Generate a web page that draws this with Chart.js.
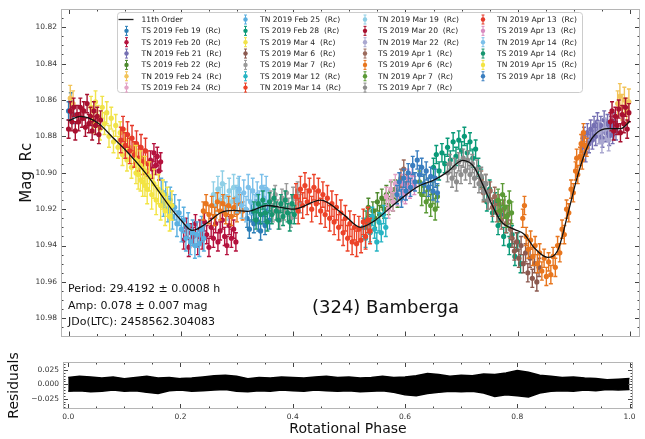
<!DOCTYPE html>
<html><head><meta charset="utf-8">
<script src="https://cdn.jsdelivr.net/npm/chart.js@4"></script>
<style>
html,body{margin:0;padding:0;background:#fff;}
#wrap{position:relative;width:645px;height:439px;overflow:hidden;background:#fff;}
#main{position:absolute;left:0;top:0;width:645px;height:345px;}
#resid{position:absolute;left:0;top:345px;width:645px;height:94px;}
</style></head><body>
<div id="wrap"><canvas id="main" width="645" height="345"></canvas><canvas id="resid" width="645" height="94"></canvas></div>
<script>
// ---------------- DATA ----------------
const fitPhase = [0.000,0.021,0.051,0.080,0.105,0.140,0.160,0.182,0.200,0.220,0.247,0.271,0.294,0.319,0.354,0.401,0.449,0.490,0.520,0.544,0.586,0.622,0.651,0.675,0.702,0.722,0.746,0.770,0.794,0.812,0.829,0.853,0.871,0.889,0.907,0.925,0.942,0.960,0.984,1.000];
const fitMag = [10.8715,10.869,10.8724,10.881,10.8887,10.9013,10.910,10.9194,10.926,10.9317,10.9275,10.922,10.9207,10.9212,10.918,10.920,10.915,10.923,10.930,10.9266,10.9158,10.9076,10.904,10.8995,10.8932,10.8968,10.9122,10.9266,10.9311,10.9339,10.9411,10.9465,10.9429,10.923,10.9013,10.8851,10.8778,10.8757,10.8757,10.8715];

const tsFeb19 = [[0.000,10.866],[0.004,10.861],[0.008,10.868],[0.318,10.925],[0.322,10.931],[0.326,10.922],[0.330,10.928],[0.334,10.920],[0.338,10.927],[0.342,10.932],[0.346,10.923],[0.350,10.929],[0.354,10.921],[0.358,10.926]];
const tsFeb20 = [[0.146,10.893],[0.149,10.898],[0.152,10.889],[0.155,10.896],[0.158,10.891],[0.161,10.899],[0.164,10.894],[0.205,10.937],[0.210,10.930],[0.214,10.941],[0.218,10.933],[0.222,10.935],[0.226,10.928],[0.230,10.940],[0.234,10.931],[0.238,10.937],[0.242,10.927],[0.246,10.934],[0.250,10.941],[0.254,10.930],[0.258,10.936],[0.262,10.928],[0.266,10.938],[0.270,10.932],[0.274,10.926],[0.278,10.935],[0.282,10.940],[0.286,10.929],[0.290,10.936],[0.294,10.931],[0.298,10.938]];
const tnFeb21 = [[0.915,10.886],[0.918,10.880],[0.921,10.889],[0.924,10.878],[0.927,10.884],[0.930,10.876],[0.933,10.882],[0.936,10.874],[0.939,10.880],[0.942,10.872],[0.945,10.879],[0.948,10.874],[0.951,10.881],[0.954,10.871],[0.957,10.878],[0.960,10.873],[0.963,10.880],[0.966,10.874],[0.969,10.879],[0.972,10.872],[0.975,10.877]];
const tsFeb22 = [[0.530,10.926],[0.534,10.919],[0.538,10.928],[0.542,10.921],[0.546,10.925],[0.550,10.916],[0.554,10.923],[0.558,10.914],[0.562,10.920],[0.566,10.912],[0.570,10.918],[0.574,10.910],[0.578,10.916],[0.582,10.909],[0.586,10.914]];
const tnFeb24 = [[0.978,10.862],[0.982,10.858],[0.986,10.864],[0.990,10.860],[0.994,10.866],[0.998,10.861],[0.003,10.859],[0.008,10.862]];
const tsFeb24 = [[0.566,10.913],[0.570,10.920],[0.574,10.909],[0.578,10.916],[0.582,10.906],[0.586,10.913],[0.590,10.905],[0.594,10.911]];
const tnFeb25 = [[0.165,10.910],[0.169,10.917],[0.173,10.912],[0.177,10.920],[0.181,10.915],[0.185,10.924],[0.189,10.919],[0.193,10.928],[0.197,10.922],[0.201,10.931],[0.205,10.926],[0.209,10.936],[0.213,10.929],[0.217,10.938],[0.221,10.933],[0.225,10.940],[0.229,10.934],[0.233,10.939],[0.237,10.931],[0.241,10.936]];
const tsFeb28 = [[0.650,10.897],[0.655,10.890],[0.660,10.899],[0.665,10.889],[0.670,10.895],[0.675,10.886],[0.680,10.893],[0.685,10.883],[0.690,10.891],[0.695,10.882],[0.700,10.888],[0.705,10.880],[0.710,10.889],[0.715,10.883],[0.720,10.892],[0.725,10.887],[0.730,10.897],[0.735,10.903],[0.740,10.910],[0.745,10.916],[0.750,10.909],[0.755,10.922],[0.760,10.916],[0.765,10.929],[0.770,10.923],[0.775,10.935],[0.780,10.928],[0.785,10.940],[0.790,10.934],[0.795,10.946],[0.800,10.938],[0.805,10.950]];
const tsMar4 = [[0.040,10.864],[0.044,10.872],[0.048,10.861],[0.052,10.869],[0.056,10.876],[0.060,10.864],[0.064,10.873],[0.068,10.867],[0.072,10.880],[0.076,10.870],[0.080,10.883],[0.084,10.874],[0.088,10.886],[0.092,10.878],[0.096,10.890],[0.100,10.882],[0.104,10.893],[0.108,10.886],[0.112,10.897],[0.116,10.889],[0.120,10.900],[0.124,10.893],[0.128,10.904],[0.132,10.897],[0.136,10.907],[0.140,10.900]];
const tsMar6 = [[0.790,10.936],[0.794,10.943],[0.798,10.938],[0.802,10.947],[0.806,10.940],[0.810,10.950],[0.814,10.944],[0.818,10.955],[0.822,10.947],[0.826,10.958],[0.830,10.950],[0.834,10.960],[0.838,10.952]];
const tsMar7 = [[0.360,10.915],[0.364,10.922],[0.368,10.912],[0.372,10.920],[0.376,10.926],[0.380,10.914],[0.384,10.921],[0.388,10.911],[0.392,10.919],[0.396,10.925],[0.400,10.913],[0.404,10.920],[0.408,10.910],[0.412,10.917]];
const tsMar12 = [[0.525,10.930],[0.529,10.936],[0.533,10.926],[0.537,10.933],[0.541,10.924],[0.545,10.931],[0.549,10.938],[0.553,10.927],[0.557,10.933],[0.561,10.923],[0.565,10.930]];
const tnMar14 = [[0.405,10.913],[0.409,10.921],[0.413,10.909],[0.417,10.918],[0.421,10.907],[0.425,10.916],[0.429,10.910],[0.433,10.920],[0.437,10.908],[0.441,10.917],[0.445,10.910],[0.449,10.921],[0.453,10.912],[0.457,10.923],[0.461,10.914],[0.465,10.925],[0.469,10.917],[0.473,10.927],[0.477,10.919],[0.481,10.930],[0.485,10.922],[0.489,10.933],[0.493,10.925],[0.497,10.936],[0.501,10.928],[0.505,10.938],[0.509,10.930],[0.513,10.939],[0.517,10.931],[0.521,10.937],[0.525,10.927],[0.529,10.935],[0.533,10.926],[0.537,10.932]];
const tnMar19 = [[0.258,10.912],[0.262,10.918],[0.266,10.909],[0.270,10.915],[0.274,10.906],[0.278,10.913],[0.282,10.919],[0.286,10.910],[0.290,10.916],[0.294,10.908],[0.298,10.914],[0.302,10.910]];
const tsMar20 = [[0.000,10.876],[0.003,10.866],[0.006,10.872],[0.009,10.864],[0.012,10.877],[0.015,10.868],[0.018,10.872],[0.021,10.864],[0.024,10.870],[0.027,10.866],[0.030,10.875],[0.033,10.862],[0.036,10.873],[0.039,10.869],[0.042,10.877],[0.045,10.866],[0.048,10.874],[0.051,10.869],[0.054,10.879],[0.057,10.871],[0.965,10.872],[0.968,10.866],[0.971,10.877],[0.974,10.869],[0.977,10.874],[0.980,10.865],[0.983,10.878],[0.986,10.868],[0.989,10.873],[0.992,10.864],[0.995,10.876],[0.998,10.867]];
const tnMar22 = [[0.944,10.878],[0.950,10.883],[0.956,10.876],[0.962,10.882]];
const tsApr1 = [[0.592,10.903],[0.597,10.898],[0.602,10.906],[0.735,10.904],[0.739,10.911],[0.743,10.906],[0.747,10.915],[0.751,10.910],[0.755,10.919],[0.759,10.913],[0.763,10.922],[0.767,10.917],[0.771,10.926],[0.775,10.920],[0.779,10.928],[0.783,10.923],[0.787,10.931]];
const tsApr6 = [[0.240,10.921],[0.245,10.917],[0.250,10.923],[0.255,10.918],[0.260,10.924],[0.265,10.916],[0.270,10.921],[0.275,10.917],[0.280,10.923],[0.285,10.918],[0.290,10.924],[0.295,10.919],[0.300,10.922],[0.305,10.917],[0.310,10.921],[0.809,10.925],[0.812,10.918],[0.815,10.935],[0.819,10.942],[0.823,10.937],[0.827,10.946],[0.831,10.940],[0.835,10.950],[0.839,10.944],[0.843,10.954],[0.847,10.947],[0.851,10.957],[0.855,10.949],[0.859,10.956],[0.863,10.946],[0.867,10.952],[0.871,10.940],[0.875,10.944],[0.879,10.931],[0.883,10.934],[0.887,10.920],[0.891,10.922],[0.895,10.909],[0.899,10.911],[0.903,10.899],[0.905,10.892],[0.907,10.901],[0.911,10.891],[0.913,10.884],[0.915,10.893],[0.917,10.878],[0.919,10.885],[0.923,10.886]];
const tnApr7 = [[0.625,10.905],[0.629,10.912],[0.633,10.907],[0.637,10.916],[0.641,10.909],[0.645,10.918],[0.649,10.911],[0.653,10.920],[0.657,10.913],[0.765,10.915],[0.769,10.921],[0.773,10.912],[0.777,10.919],[0.781,10.924],[0.785,10.916],[0.789,10.922]];
const tsApr7 = [[0.675,10.900],[0.679,10.895],[0.683,10.903],[0.687,10.897],[0.691,10.905],[0.695,10.894],[0.699,10.901],[0.703,10.892],[0.707,10.899],[0.711,10.893],[0.715,10.901],[0.719,10.895],[0.723,10.903],[0.727,10.898],[0.731,10.906],[0.735,10.902],[0.739,10.910],[0.743,10.906],[0.747,10.915]];
const tnApr13 = [[0.093,10.882],[0.097,10.876],[0.101,10.885],[0.105,10.879],[0.109,10.888],[0.113,10.881],[0.117,10.890],[0.121,10.884],[0.125,10.892],[0.129,10.886],[0.133,10.894],[0.137,10.888],[0.141,10.895]];
const tsApr13 = [[0.596,10.906],[0.600,10.912],[0.604,10.903],[0.608,10.909],[0.612,10.901],[0.616,10.907]];
const tnApr14 = [[0.300,10.915],[0.304,10.909],[0.308,10.918],[0.312,10.911],[0.316,10.920],[0.320,10.908],[0.324,10.916],[0.328,10.910],[0.332,10.919],[0.336,10.912],[0.340,10.917],[0.344,10.908],[0.348,10.914],[0.352,10.909],[0.356,10.916]];
const tsApr14 = [[0.330,10.921],[0.334,10.926],[0.338,10.917],[0.342,10.923],[0.346,10.915],[0.350,10.922],[0.354,10.927],[0.358,10.916],[0.362,10.923],[0.366,10.914],[0.370,10.921],[0.374,10.926],[0.378,10.917],[0.382,10.924],[0.386,10.915],[0.390,10.922],[0.394,10.927],[0.398,10.917],[0.402,10.923]];
const tnApr15 = [[0.120,10.893],[0.124,10.901],[0.128,10.896],[0.132,10.905],[0.136,10.899],[0.140,10.909],[0.144,10.902],[0.148,10.912],[0.152,10.906],[0.156,10.915],[0.160,10.909],[0.164,10.918],[0.168,10.912],[0.172,10.921],[0.176,10.916],[0.180,10.924],[0.184,10.918]];
const tsApr18 = [[0.585,10.912],[0.589,10.905],[0.593,10.914],[0.597,10.903],[0.601,10.910],[0.605,10.900],[0.609,10.908],[0.613,10.896],[0.617,10.905],[0.621,10.893],[0.625,10.901],[0.629,10.897],[0.633,10.906],[0.637,10.899],[0.641,10.908],[0.645,10.902],[0.649,10.910],[0.653,10.903],[0.657,10.911]];

const sessionLabels = ['TS 2019 Feb 19  (Rc)','TS 2019 Feb 20  (Rc)','TN 2019 Feb 21  (Rc)','TS 2019 Feb 22  (Rc)','TN 2019 Feb 24  (Rc)','TS 2019 Feb 24  (Rc)','TN 2019 Feb 25  (Rc)','TS 2019 Feb 28  (Rc)','TS 2019 Mar 4  (Rc)','TS 2019 Mar 6  (Rc)','TS 2019 Mar 7  (Rc)','TS 2019 Mar 12  (Rc)','TN 2019 Mar 14  (Rc)','TN 2019 Mar 19  (Rc)','TS 2019 Mar 20  (Rc)','TN 2019 Mar 22  (Rc)','TS 2019 Apr 1  (Rc)','TS 2019 Apr 6  (Rc)','TN 2019 Apr 7  (Rc)','TS 2019 Apr 7  (Rc)','TN 2019 Apr 13  (Rc)','TS 2019 Apr 13  (Rc)','TN 2019 Apr 14  (Rc)','TS 2019 Apr 14  (Rc)','TN 2019 Apr 15  (Rc)','TS 2019 Apr 18  (Rc)'];
const sessionData = [tsFeb19,tsFeb20,tnFeb21,tsFeb22,tnFeb24,tsFeb24,tnFeb25,tsFeb28,tsMar4,tsMar6,tsMar7,tsMar12,tnMar14,tnMar19,tsMar20,tnMar22,tsApr1,tsApr6,tnApr7,tsApr7,tnApr13,tsApr13,tnApr14,tsApr14,tnApr15,tsApr18];
const sessionErr = [0.005,0.005,0.005,0.005,0.007,0.005,0.007,0.005,0.006,0.005,0.005,0.005,0.007,0.007,0.005,0.006,0.005,0.005,0.006,0.005,0.007,0.005,0.007,0.005,0.008,0.005];
const sessionColors = ['#2c7fb8','#b5123e','#7570b3','#4e8a2e','#f2c45a','#e3a3c6','#5aafe0','#0a9a78','#f1e34b','#8c5a50','#9a9a9a','#27b4c3','#ec4329','#8fcfe6','#a8102f','#aaa8d0','#9c6b5c','#e8761e','#5b9a36','#8d8d8d','#e53a2b','#d98cc0','#7cc0ea','#17956f','#f3e442','#3a7ec0'];

const magTicks = [10.82,10.84,10.86,10.88,10.90,10.92,10.94,10.96,10.98];
const phaseTicks = [0.0,0.2,0.4,0.6,0.8,1.0];
const residTicks = [-0.025,0.0,0.025];

const residPhase = [0.00,0.02,0.04,0.06,0.08,0.10,0.12,0.14,0.16,0.18,0.20,0.22,0.24,0.26,0.28,0.30,0.32,0.34,0.36,0.38,0.40,0.42,0.44,0.46,0.48,0.50,0.52,0.54,0.56,0.58,0.60,0.62,0.64,0.66,0.68,0.70,0.72,0.74,0.76,0.78,0.80,0.82,0.84,0.86,0.88,0.90,0.92,0.94,0.96,0.98,1.00];
const residUpper = [0.012,0.014,0.013,0.011,0.013,0.010,0.012,0.014,0.011,0.012,0.010,0.011,0.013,0.015,0.016,0.014,0.010,0.012,0.011,0.013,0.012,0.011,0.013,0.014,0.012,0.013,0.011,0.012,0.014,0.012,0.013,0.015,0.019,0.017,0.014,0.016,0.015,0.018,0.017,0.020,0.024,0.021,0.016,0.014,0.012,0.013,0.011,0.010,0.008,0.009,0.010];
const residLower = [-0.012,-0.011,-0.013,-0.012,-0.010,-0.012,-0.011,-0.014,-0.016,-0.011,-0.010,-0.012,-0.011,-0.010,-0.009,-0.012,-0.013,-0.011,-0.012,-0.010,-0.011,-0.012,-0.010,-0.011,-0.012,-0.011,-0.013,-0.012,-0.011,-0.014,-0.018,-0.020,-0.016,-0.014,-0.012,-0.013,-0.012,-0.015,-0.021,-0.018,-0.020,-0.022,-0.015,-0.012,-0.011,-0.012,-0.010,-0.011,-0.009,-0.010,-0.009];

const infoLines = ['Period: 29.4192 \u00b1 0.0008 h','Amp: 0.078 \u00b1 0.007 mag','JDo(LTC): 2458562.304083'];
const objectName = '(324) Bamberga';

// ---------------- PLUGINS ----------------
const FONT = 'DejaVu Sans';
function minorList(lo, hi, step){ const out=[]; for(let k=Math.ceil(lo/step-1e-9);k*step<=hi+1e-9;k++) out.push(+(k*step).toFixed(6)); return out; }

const frameTicks = {
  id: 'frameTicks',
  afterDatasetsDraw(chart, args, o) {
    const {ctx, chartArea: a, scales} = chart;
    const xs = scales.x, ys = scales.y;
    ctx.save();
    ctx.lineWidth = 1;
    ctx.strokeStyle = o.tickColor;
    ctx.beginPath();
    const tx = (vals, len) => vals.forEach(v => {
      const px = Math.round(xs.getPixelForValue(v)) + 0.5;
      if (px < a.left - 0.1 || px > a.right + 0.1) return;
      ctx.moveTo(px, a.bottom); ctx.lineTo(px, a.bottom - len);
      ctx.moveTo(px, a.top); ctx.lineTo(px, a.top + len);
    });
    const ty = (vals, len) => vals.forEach(v => {
      const py = Math.round(ys.getPixelForValue(v)) + 0.5;
      if (py < a.top - 0.1 || py > a.bottom + 0.1) return;
      ctx.moveTo(a.left, py); ctx.lineTo(a.left + len, py);
      ctx.moveTo(a.right, py); ctx.lineTo(a.right - len, py);
    });
    tx(o.xMajor, 5); tx(o.xMinor, 2.5); ty(o.yMajor, 5); ty(o.yMinor, 2.5);
    ctx.stroke();
    ctx.strokeStyle = o.frameColor;
    ctx.strokeRect(Math.round(a.left)+0.5, Math.round(a.top)+0.5, Math.round(a.right-a.left)-1, Math.round(a.bottom-a.top)-1);
    ctx.restore();
  }
};

const errorBars = {
  id: 'errorBars',
  beforeDatasetDraw(chart, args) {
    const ds = chart.data.datasets[args.index];
    if (!ds.errorValue) return;
    const {ctx, chartArea: a} = chart;
    const xs = chart.scales.x, ys = chart.scales.y;
    ctx.save();
    ctx.beginPath(); ctx.rect(a.left, a.top, a.right - a.left, a.bottom - a.top); ctx.clip();
    ctx.strokeStyle = ds.backgroundColor; ctx.lineWidth = 1.4;
    ctx.beginPath();
    ds.data.forEach(pt => {
      const px = xs.getPixelForValue(pt.x);
      const y1 = ys.getPixelForValue(pt.y - ds.errorValue), y2 = ys.getPixelForValue(pt.y + ds.errorValue);
      ctx.moveTo(px, y1); ctx.lineTo(px, y2);
      ctx.moveTo(px - 2, y1); ctx.lineTo(px + 2, y1);
      ctx.moveTo(px - 2, y2); ctx.lineTo(px + 2, y2);
    });
    ctx.stroke();
    ctx.restore();
  }
};

const legendBox = {
  id: 'legendBox',
  afterDraw(chart, args, o) {
    const ctx = chart.ctx;
    ctx.save();
    const b = o.box;
    ctx.beginPath();
    ctx.roundRect(b.x + 0.5, b.y + 0.5, b.w, b.h, 3);
    ctx.fillStyle = 'rgba(255,255,255,0.85)'; ctx.fill();
    ctx.strokeStyle = '#cccccc'; ctx.lineWidth = 1; ctx.stroke();
    ctx.font = o.fontSize + 'px "' + FONT + '"';
    ctx.textBaseline = 'middle'; ctx.textAlign = 'left';
    chart.data.datasets.forEach((d, i) => {
      const col = Math.floor(i / o.perCol), row = i % o.perCol;
      const mx = o.markerX[col], tx = o.textX[col], y = o.rowY0 + row * o.rowH;
      if (d.type === 'line') {
        ctx.strokeStyle = '#222'; ctx.lineWidth = 1.3;
        ctx.beginPath(); ctx.moveTo(mx - 7.5, y); ctx.lineTo(mx + 7.5, y); ctx.stroke();
      } else {
        ctx.strokeStyle = d.backgroundColor; ctx.lineWidth = 1;
        ctx.beginPath();
        ctx.moveTo(mx + 0.5, y - 4.5); ctx.lineTo(mx + 0.5, y + 4.5);
        ctx.moveTo(mx - 1, y - 4.5); ctx.lineTo(mx + 2, y - 4.5);
        ctx.moveTo(mx - 1, y + 4.5); ctx.lineTo(mx + 2, y + 4.5);
        ctx.stroke();
        ctx.fillStyle = d.backgroundColor;
        ctx.beginPath(); ctx.arc(mx + 0.5, y, 2.2, 0, Math.PI * 2); ctx.fill();
      }
      ctx.fillStyle = '#222';
      ctx.fillText(d.label, tx, y + 0.5);
    });
    ctx.restore();
  }
};

const annotations = {
  id: 'annotations',
  afterDraw(chart, args, o) {
    const ctx = chart.ctx;
    ctx.save();
    ctx.fillStyle = '#111';
    ctx.textBaseline = 'middle';
    ctx.textAlign = 'left';
    ctx.font = '11px "' + FONT + '"';
    infoLines.forEach((t, i) => ctx.fillText(t, o.infoX, o.infoY0 + i * o.infoDy));
    ctx.textAlign = 'center';
    ctx.font = '18px "' + FONT + '"';
    ctx.fillText(objectName, o.nameX, o.nameY);
    ctx.restore();
  }
};

// ---------------- MAIN CHART ----------------
const datasets = [{
  type: 'line', label: '11th Order', order: 0,
  data: fitPhase.map((p, i) => ({x: p, y: fitMag[i]})),
  borderColor: '#111', borderWidth: 1.3, pointRadius: 0, fill: false,
  cubicInterpolationMode: 'monotone'
}];
sessionData.forEach((arr, i) => {
  datasets.push({
    type: 'scatter', label: sessionLabels[i], order: 100 - i,
    data: arr.map(p => ({x: p[0], y: p[1]})),
    backgroundColor: sessionColors[i], borderWidth: 0,
    pointRadius: 2.6, pointHoverRadius: 2.6,
    errorValue: sessionErr[i]
  });
});

new Chart(document.getElementById('main'), {
  data: {datasets},
  options: {
    responsive: false, animation: false, devicePixelRatio: 1,
    layout: {padding: {top: 9, right: 5, bottom: 0, left: 0}},
    scales: {
      x: {type: 'linear', min: -0.0135, max: 1.0178,
          ticks: {display: false}, grid: {display: false}, border: {display: false},
          afterFit(s) { s.height = 6; }},
      y: {type: 'linear', reverse: true, min: 10.81, max: 10.99,
          afterBuildTicks(s) { s.ticks = magTicks.map(v => ({value: v})); },
          ticks: {font: {family: FONT, size: 7.5}, color: '#333', padding: 4, callback: v => Number(v).toFixed(2)},
          grid: {display: false, drawTicks: false}, border: {display: false},
          title: {display: true, text: 'Mag  Rc', font: {family: FONT, size: 15}, color: '#111', padding: {top: 18, bottom: 0}},
          afterFit(s) { s.width = 61; }}
    },
    plugins: {
      legend: {display: false}, tooltip: {enabled: false},
      frameTicks: {tickColor: '#444', frameColor: '#b5b5b5',
        xMajor: phaseTicks, xMinor: minorList(0, 1, 0.05),
        yMajor: magTicks, yMinor: minorList(10.81, 10.99, 0.005)},
      legendBox: {box: {x: 117, y: 12, w: 465, h: 80}, perCol: 7, rowY0: 19.5, rowH: 11.35,
        markerX: [126, 245, 364.5, 482.5], textX: [141.5, 260, 378, 497], fontSize: 7.6},
      annotations: {infoX: 68, infoY0: 289.5, infoDy: 16.3, nameX: 385.5, nameY: 308}
    }
  },
  plugins: [errorBars, frameTicks, legendBox, annotations]
});

// ---------------- RESIDUALS ----------------
new Chart(document.getElementById('resid'), {
  type: 'line',
  data: {datasets: [
    {label: 'upper', data: residPhase.map((p, i) => ({x: p, y: residUpper[i]})), borderColor: '#000', backgroundColor: '#000', borderWidth: 1.5, pointRadius: 0, fill: false},
    {label: 'lower', data: residPhase.map((p, i) => ({x: p, y: residLower[i]})), borderColor: '#000', backgroundColor: '#000', borderWidth: 1.5, pointRadius: 0, fill: '-1'}
  ]},
  options: {
    responsive: false, animation: false, devicePixelRatio: 1,
    layout: {padding: {top: 17, right: 12, bottom: 0, left: 0}},
    scales: {
      x: {type: 'linear', min: -0.0093, max: 1.0062,
          afterBuildTicks(s) { s.ticks = phaseTicks.map(v => ({value: v})); },
          ticks: {font: {family: FONT, size: 7.5}, color: '#333', padding: 4, maxRotation: 0, callback: v => Number(v).toFixed(1)},
          grid: {display: false, drawTicks: false}, border: {display: false},
          title: {display: true, text: 'Rotational Phase', font: {family: FONT, size: 14}, color: '#111', padding: {top: 0, bottom: 1}},
          afterFit(s) { s.height = 30; }},
      y: {type: 'linear', min: -0.043, max: 0.039,
          afterBuildTicks(s) { s.ticks = residTicks.map(v => ({value: v})); },
          ticks: {font: {family: FONT, size: 7.5}, color: '#333', padding: 4, callback: v => { const t = Number(v).toFixed(3); return t.replace('-', '\u2212'); }},
          grid: {display: false, drawTicks: false}, border: {display: false},
          title: {display: true, text: 'Residuals', font: {family: FONT, size: 14}, color: '#111', padding: {top: 6, bottom: 0}},
          afterFit(s) { s.width = 63; }}
    },
    plugins: {
      legend: {display: false}, tooltip: {enabled: false}, filler: {propagate: false},
      frameTicks: {tickColor: '#444', frameColor: '#b5b5b5',
        xMajor: phaseTicks, xMinor: minorList(0, 1, 0.05),
        yMajor: residTicks, yMinor: minorList(-0.04, 0.035, 0.005)}
    }
  },
  plugins: [frameTicks]
});
</script>
</body></html>
